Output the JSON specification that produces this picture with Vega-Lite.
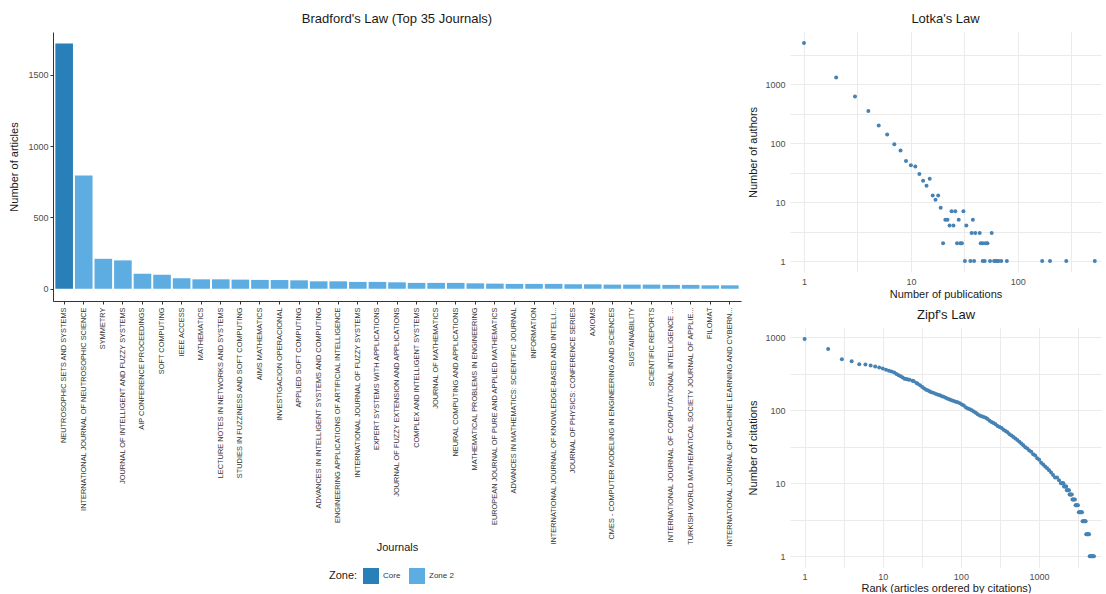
{
  "$schema": "https://vega.github.io/schema/vega-lite/v6.json",
  "padding": {"left": 8, "top": 13, "right": 0, "bottom": 0},
  "background": "white",
  "config": {
    "font": "Liberation Sans",
    "view": {"stroke": null},
    "title": {"fontSize": 13, "fontWeight": "normal", "color": "#1a1a1a", "offset": 6, "frame": "group"},
    "axis": {"labelColor": "#4d4d4d", "labelFontSize": 9, "titleFontSize": 11, "titleFontWeight": "normal", "titleColor": "#1a1a1a"}
  },
  "resolve": {"scale": {"color": "independent"}, "legend": {"color": "independent"}},
  "spacing": 6,
  "hconcat": [
    {
      "title": "Bradford's Law (Top 35 Journals)",
      "width": 688,
      "height": 269,
      "data": {"values": [
        {"journal": "NEUTROSOPHIC SETS AND SYSTEMS", "articles": 1720, "zone": "Core"},
        {"journal": "INTERNATIONAL JOURNAL OF NEUTROSOPHIC SCIENCE", "articles": 795, "zone": "Zone 2"},
        {"journal": "SYMMETRY", "articles": 210, "zone": "Zone 2"},
        {"journal": "JOURNAL OF INTELLIGENT AND FUZZY SYSTEMS", "articles": 199, "zone": "Zone 2"},
        {"journal": "AIP CONFERENCE PROCEEDINGS", "articles": 105, "zone": "Zone 2"},
        {"journal": "SOFT COMPUTING", "articles": 98, "zone": "Zone 2"},
        {"journal": "IEEE ACCESS", "articles": 73, "zone": "Zone 2"},
        {"journal": "MATHEMATICS", "articles": 66, "zone": "Zone 2"},
        {"journal": "LECTURE NOTES IN NETWORKS AND SYSTEMS", "articles": 66, "zone": "Zone 2"},
        {"journal": "STUDIES IN FUZZINESS AND SOFT COMPUTING", "articles": 64, "zone": "Zone 2"},
        {"journal": "AIMS MATHEMATICS", "articles": 62, "zone": "Zone 2"},
        {"journal": "INVESTIGACION OPERACIONAL", "articles": 61, "zone": "Zone 2"},
        {"journal": "APPLIED SOFT COMPUTING", "articles": 59, "zone": "Zone 2"},
        {"journal": "ADVANCES IN INTELLIGENT SYSTEMS AND COMPUTING", "articles": 52, "zone": "Zone 2"},
        {"journal": "ENGINEERING APPLICATIONS OF ARTIFICIAL INTELLIGENCE", "articles": 52, "zone": "Zone 2"},
        {"journal": "INTERNATIONAL JOURNAL OF FUZZY SYSTEMS", "articles": 48, "zone": "Zone 2"},
        {"journal": "EXPERT SYSTEMS WITH APPLICATIONS", "articles": 48, "zone": "Zone 2"},
        {"journal": "JOURNAL OF FUZZY EXTENSION AND APPLICATIONS", "articles": 45, "zone": "Zone 2"},
        {"journal": "COMPLEX AND INTELLIGENT SYSTEMS", "articles": 41, "zone": "Zone 2"},
        {"journal": "JOURNAL OF MATHEMATICS", "articles": 41, "zone": "Zone 2"},
        {"journal": "NEURAL COMPUTING AND APPLICATIONS", "articles": 41, "zone": "Zone 2"},
        {"journal": "MATHEMATICAL PROBLEMS IN ENGINEERING", "articles": 38, "zone": "Zone 2"},
        {"journal": "EUROPEAN JOURNAL OF PURE AND APPLIED MATHEMATICS", "articles": 36, "zone": "Zone 2"},
        {"journal": "ADVANCES IN MATHEMATICS: SCIENTIFIC JOURNAL", "articles": 34, "zone": "Zone 2"},
        {"journal": "INFORMATION", "articles": 34, "zone": "Zone 2"},
        {"journal": "INTERNATIONAL JOURNAL OF KNOWLEDGE-BASED AND INTELLI...", "articles": 34, "zone": "Zone 2"},
        {"journal": "JOURNAL OF PHYSICS: CONFERENCE SERIES", "articles": 31, "zone": "Zone 2"},
        {"journal": "AXIOMS", "articles": 31, "zone": "Zone 2"},
        {"journal": "CMES - COMPUTER MODELING IN ENGINEERING AND SCIENCES", "articles": 29, "zone": "Zone 2"},
        {"journal": "SUSTAINABILITY", "articles": 29, "zone": "Zone 2"},
        {"journal": "SCIENTIFIC REPORTS", "articles": 29, "zone": "Zone 2"},
        {"journal": "INTERNATIONAL JOURNAL OF COMPUTATIONAL INTELLIGENCE ...", "articles": 27, "zone": "Zone 2"},
        {"journal": "TURKISH WORLD MATHEMATICAL SOCIETY JOURNAL OF APPLIE...", "articles": 27, "zone": "Zone 2"},
        {"journal": "FILOMAT", "articles": 24, "zone": "Zone 2"},
        {"journal": "INTERNATIONAL JOURNAL OF MACHINE LEARNING AND CYBERN...", "articles": 24, "zone": "Zone 2"}
      ]},
      "mark": {"type": "bar"},
      "encoding": {
        "x": {"field": "journal", "type": "nominal", "sort": null,
              "scale": {"paddingInner": 0.1, "paddingOuter": 0.12},
              "axis": {"title": "Journals", "labelAngle": -90, "labelFontSize": 7.4, "labelLimit": 300, "labelColor": "#333333",
                       "domainColor": "#333333", "tickColor": "#333333", "tickSize": 3, "labelPadding": 3, "titleY": 240, "titleBaseline": "top"}},
        "y": {"field": "articles", "type": "quantitative",
              "scale": {"domain": [-86, 1801], "nice": false, "zero": false},
              "axis": {"title": "Number of articles", "values": [0, 500, 1000, 1500], "format": "d", "grid": false,
                       "domainColor": "#333333", "tickColor": "#333333", "tickSize": 3, "labelPadding": 2, "titlePadding": 8}},
        "color": {"field": "zone", "type": "nominal",
                  "scale": {"domain": ["Core", "Zone 2"], "range": ["#2980b9", "#5dade2"]},
                  "legend": {"title": "Zone:", "orient": "none", "legendX": 276, "legendY": 536, "direction": "horizontal", "titleOrient": "left",
                             "titleFontSize": 11, "titleFontWeight": "normal", "titleColor": "#1a1a1a",
                             "labelFontSize": 8, "labelColor": "#333333", "symbolType": "square", "symbolSize": 256,
                             "symbolStrokeWidth": 0, "columnPadding": 8}}
      }
    },
    {
      "spacing": 10,
      "vconcat": [
        {
          "title": "Lotka's Law",
          "width": 311,
          "height": 240,
          "data": {"values": [
            {"pubs": 1, "authors": 5000}, {"pubs": 2, "authors": 1300}, {"pubs": 3, "authors": 617},
            {"pubs": 4, "authors": 352}, {"pubs": 5, "authors": 200}, {"pubs": 6, "authors": 140},
            {"pubs": 7, "authors": 96}, {"pubs": 8, "authors": 75}, {"pubs": 9, "authors": 50},
            {"pubs": 10, "authors": 42}, {"pubs": 11, "authors": 40}, {"pubs": 12, "authors": 30},
            {"pubs": 13, "authors": 23}, {"pubs": 14, "authors": 19}, {"pubs": 15, "authors": 25},
            {"pubs": 16, "authors": 13}, {"pubs": 17, "authors": 11}, {"pubs": 18, "authors": 13},
            {"pubs": 19, "authors": 8}, {"pubs": 20, "authors": 2}, {"pubs": 21, "authors": 5},
            {"pubs": 22, "authors": 5}, {"pubs": 23, "authors": 4}, {"pubs": 24, "authors": 7},
            {"pubs": 25, "authors": 4}, {"pubs": 26, "authors": 7}, {"pubs": 27, "authors": 2},
            {"pubs": 28, "authors": 5}, {"pubs": 29, "authors": 2}, {"pubs": 30, "authors": 2},
            {"pubs": 31, "authors": 7}, {"pubs": 32, "authors": 1}, {"pubs": 33, "authors": 4},
            {"pubs": 36, "authors": 1}, {"pubs": 37, "authors": 3}, {"pubs": 38, "authors": 5},
            {"pubs": 39, "authors": 1}, {"pubs": 40, "authors": 3}, {"pubs": 44, "authors": 3},
            {"pubs": 45, "authors": 2}, {"pubs": 47, "authors": 2}, {"pubs": 47, "authors": 1},
            {"pubs": 49, "authors": 1}, {"pubs": 50, "authors": 2}, {"pubs": 52, "authors": 2},
            {"pubs": 55, "authors": 1}, {"pubs": 57, "authors": 3}, {"pubs": 60, "authors": 1},
            {"pubs": 62, "authors": 1}, {"pubs": 64, "authors": 1}, {"pubs": 66, "authors": 1},
            {"pubs": 70, "authors": 1}, {"pubs": 79, "authors": 1}, {"pubs": 169, "authors": 1},
            {"pubs": 200, "authors": 1}, {"pubs": 284, "authors": 1}, {"pubs": 525, "authors": 1}
          ]},
          "mark": {"type": "circle", "size": 16, "color": "#4682b4", "opacity": 1},
          "encoding": {
            "x": {"field": "pubs", "type": "quantitative",
                  "scale": {"type": "log", "domain": [0.74, 600], "nice": false},
                  "axis": {"title": "Number of publications", "values": [1, 3.1623, 10, 31.623, 100, 316.23],
                           "labelExpr": "indexof([1, 10, 100], datum.value) >= 0 ? datum.label : ''",
                           "format": "d", "domain": false, "ticks": false, "gridColor": "#ebebeb", "labelPadding": 5, "titlePadding": 2}},
            "y": {"field": "authors", "type": "quantitative",
                  "scale": {"type": "log", "domain": [0.653, 7670], "nice": false},
                  "axis": {"title": "Number of authors", "values": [1, 3.1623, 10, 31.623, 100, 316.23, 1000, 3162.3],
                           "labelExpr": "indexof([1, 10, 100, 1000], datum.value) >= 0 ? datum.label : ''",
                           "format": "d", "domain": false, "ticks": false, "gridColor": "#ebebeb", "labelPadding": 5, "titlePadding": 6}}
          }
        },
        {
          "title": "Zipf's Law",
          "width": 312,
          "height": 239,
          "data": {"values": [
            {"rank": 1, "cites": 950}, {"rank": 2, "cites": 690}, {"rank": 3, "cites": 500}, {"rank": 4, "cites": 470},
            {"rank": 5, "cites": 427}, {"rank": 6, "cites": 425}, {"rank": 7, "cites": 410}, {"rank": 8, "cites": 397},
            {"rank": 9, "cites": 385}, {"rank": 10, "cites": 372}, {"rank": 11, "cites": 358}, {"rank": 12, "cites": 349},
            {"rank": 13, "cites": 339}, {"rank": 14, "cites": 328}, {"rank": 15, "cites": 313}, {"rank": 16, "cites": 302},
            {"rank": 17, "cites": 292}, {"rank": 18, "cites": 280}, {"rank": 19, "cites": 271}, {"rank": 20, "cites": 267},
            {"rank": 21, "cites": 264}, {"rank": 22, "cites": 261}, {"rank": 24, "cites": 254}, {"rank": 25, "cites": 250},
            {"rank": 27, "cites": 237}, {"rank": 28, "cites": 231}, {"rank": 30, "cites": 220}, {"rank": 32, "cites": 208},
            {"rank": 34, "cites": 199}, {"rank": 36, "cites": 191}, {"rank": 38, "cites": 186}, {"rank": 40, "cites": 181},
            {"rank": 42, "cites": 177}, {"rank": 45, "cites": 172}, {"rank": 48, "cites": 167}, {"rank": 51, "cites": 163},
            {"rank": 54, "cites": 160}, {"rank": 57, "cites": 156}, {"rank": 60, "cites": 153}, {"rank": 64, "cites": 148},
            {"rank": 68, "cites": 144}, {"rank": 72, "cites": 140}, {"rank": 76, "cites": 137}, {"rank": 81, "cites": 134},
            {"rank": 86, "cites": 131}, {"rank": 91, "cites": 129}, {"rank": 97, "cites": 125}, {"rank": 103, "cites": 120},
            {"rank": 109, "cites": 116}, {"rank": 116, "cites": 109}, {"rank": 123, "cites": 106}, {"rank": 130, "cites": 103},
            {"rank": 138, "cites": 100}, {"rank": 146, "cites": 96}, {"rank": 155, "cites": 92}, {"rank": 164, "cites": 88},
            {"rank": 174, "cites": 85}, {"rank": 185, "cites": 83}, {"rank": 196, "cites": 81}, {"rank": 208, "cites": 79},
            {"rank": 220, "cites": 76}, {"rank": 233, "cites": 72}, {"rank": 247, "cites": 69}, {"rank": 262, "cites": 67},
            {"rank": 278, "cites": 64}, {"rank": 295, "cites": 61}, {"rank": 313, "cites": 59}, {"rank": 332, "cites": 57},
            {"rank": 352, "cites": 54}, {"rank": 373, "cites": 52}, {"rank": 395, "cites": 50}, {"rank": 419, "cites": 47},
            {"rank": 444, "cites": 45}, {"rank": 470, "cites": 43}, {"rank": 498, "cites": 41}, {"rank": 528, "cites": 39},
            {"rank": 560, "cites": 37}, {"rank": 594, "cites": 35}, {"rank": 630, "cites": 33}, {"rank": 668, "cites": 31},
            {"rank": 708, "cites": 30}, {"rank": 750, "cites": 28}, {"rank": 795, "cites": 27}, {"rank": 843, "cites": 25},
            {"rank": 894, "cites": 24}, {"rank": 948, "cites": 22}, {"rank": 1005, "cites": 21}, {"rank": 1065, "cites": 19},
            {"rank": 1130, "cites": 18}, {"rank": 1198, "cites": 17}, {"rank": 1270, "cites": 16}, {"rank": 1346, "cites": 15},
            {"rank": 1427, "cites": 14}, {"rank": 1513, "cites": 13}, {"rank": 1604, "cites": 12}, {"rank": 1700, "cites": 12},
            {"rank": 1802, "cites": 11}, {"rank": 1910, "cites": 10}, {"rank": 1940, "cites": 10}, {"rank": 2000, "cites": 10},
            {"rank": 2050, "cites": 10}, {"rank": 2090, "cites": 9}, {"rank": 2140, "cites": 9}, {"rank": 2190, "cites": 9},
            {"rank": 2230, "cites": 9}, {"rank": 2270, "cites": 8}, {"rank": 2320, "cites": 8}, {"rank": 2370, "cites": 8},
            {"rank": 2420, "cites": 8}, {"rank": 2460, "cites": 7}, {"rank": 2510, "cites": 7}, {"rank": 2570, "cites": 7},
            {"rank": 2630, "cites": 7}, {"rank": 2680, "cites": 6}, {"rank": 2740, "cites": 6}, {"rank": 2810, "cites": 6},
            {"rank": 2880, "cites": 6}, {"rank": 2940, "cites": 5}, {"rank": 3010, "cites": 5}, {"rank": 3080, "cites": 5},
            {"rank": 3150, "cites": 5}, {"rank": 3230, "cites": 4}, {"rank": 3310, "cites": 4}, {"rank": 3400, "cites": 4},
            {"rank": 3480, "cites": 4}, {"rank": 3550, "cites": 4}, {"rank": 3610, "cites": 3}, {"rank": 3700, "cites": 3},
            {"rank": 3790, "cites": 3}, {"rank": 3880, "cites": 3}, {"rank": 3950, "cites": 3}, {"rank": 4020, "cites": 2},
            {"rank": 4110, "cites": 2}, {"rank": 4200, "cites": 2}, {"rank": 4290, "cites": 2}, {"rank": 4370, "cites": 2},
            {"rank": 4450, "cites": 1}, {"rank": 4560, "cites": 1}, {"rank": 4680, "cites": 1}, {"rank": 4800, "cites": 1},
            {"rank": 4920, "cites": 1}, {"rank": 5050, "cites": 1}
          ]},
          "mark": {"type": "circle", "size": 16, "color": "#4682b4", "opacity": 1},
          "encoding": {
            "x": {"field": "rank", "type": "quantitative",
                  "scale": {"type": "log", "domain": [0.65, 6400], "nice": false},
                  "axis": {"title": "Rank (articles ordered by citations)", "values": [1, 3.1623, 10, 31.623, 100, 316.23, 1000, 3162.3],
                           "labelExpr": "indexof([1, 10, 100, 1000], datum.value) >= 0 ? datum.label : ''",
                           "format": "d", "domain": false, "ticks": false, "gridColor": "#ebebeb", "labelPadding": 5, "titlePadding": 1}},
            "y": {"field": "cites", "type": "quantitative",
                  "scale": {"type": "log", "domain": [0.71, 1340], "nice": false},
                  "axis": {"title": "Number of citations", "values": [1, 3.1623, 10, 31.623, 100, 316.23, 1000],
                           "labelExpr": "indexof([1, 10, 100, 1000], datum.value) >= 0 ? datum.label : ''",
                           "format": "d", "domain": false, "ticks": false, "gridColor": "#ebebeb", "labelPadding": 5, "titlePadding": 6}}
          }
        }
      ]
    }
  ]
}
